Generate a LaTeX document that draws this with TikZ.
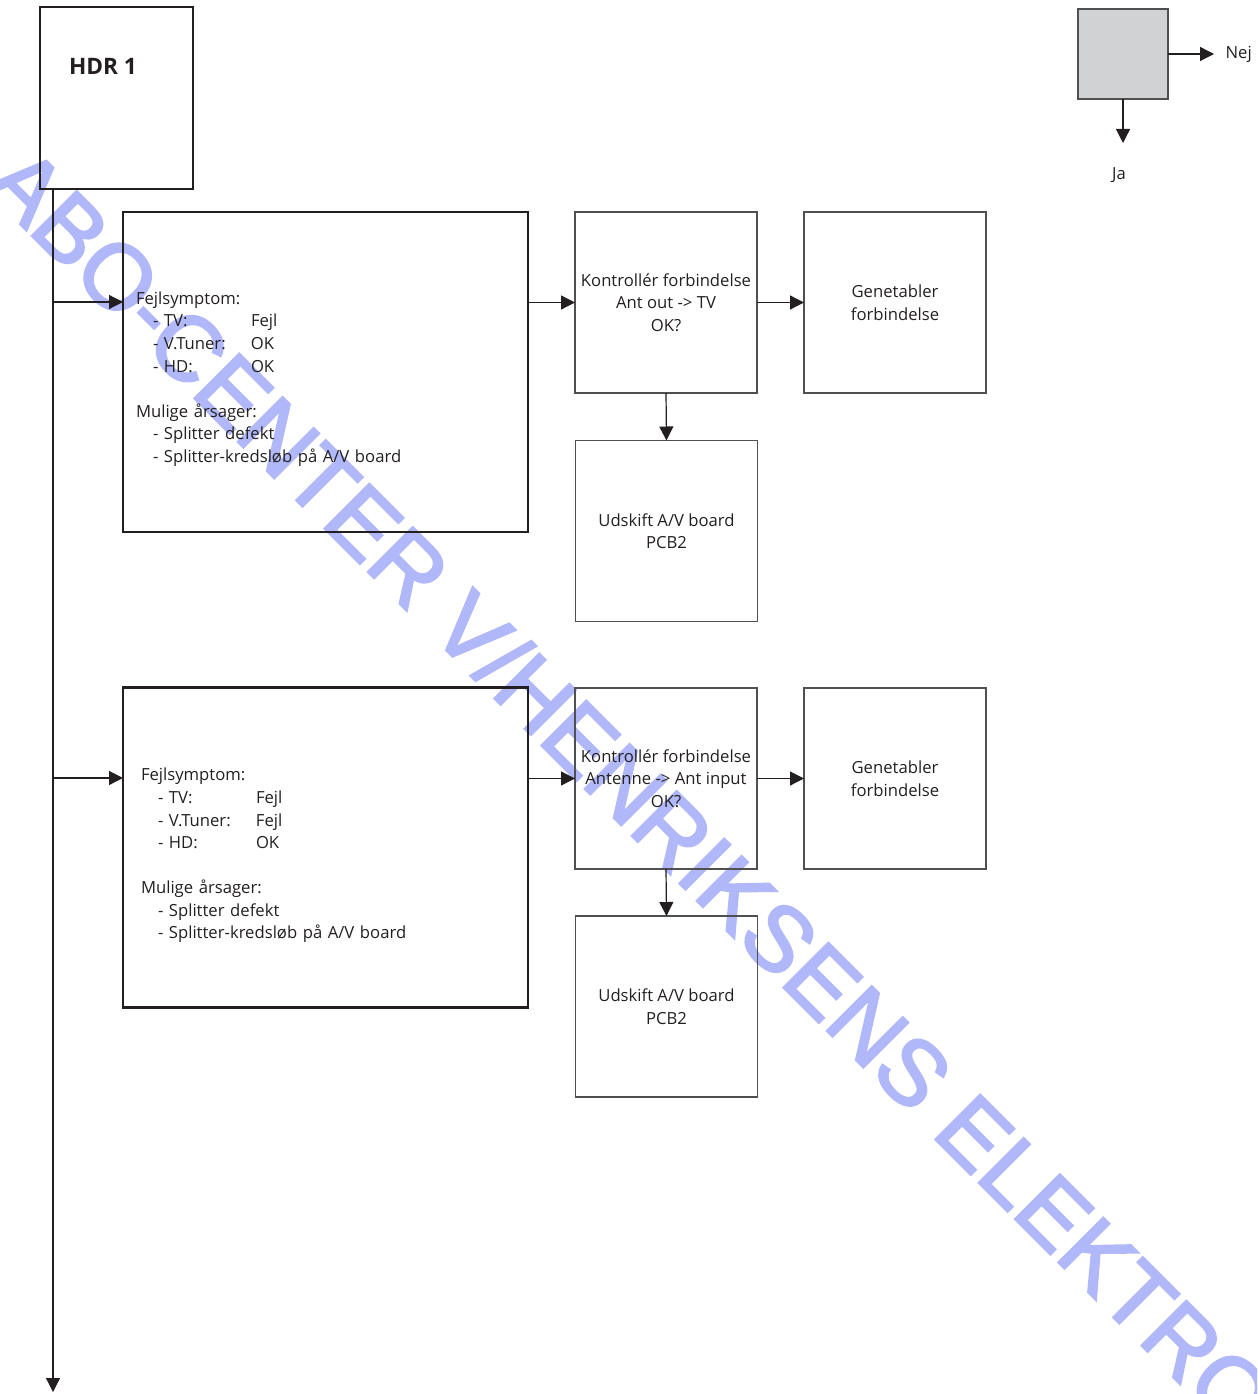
\documentclass[tikz,border=0pt]{standalone}
\usepackage{fontspec}
\setmainfont{Open Sans}
\newfontfamily\wmfont[RawFeature={embolden=2.5}]{Liberation Sans}
\usetikzlibrary{arrows.meta,positioning}
\definecolor{ink}{HTML}{231F20}
\definecolor{boxgray}{HTML}{505052}
\definecolor{legfill}{HTML}{D1D2D4}
\definecolor{wmblue}{RGB}{176,184,250}
\newcommand{\txt}{\fontsize{12.5}{16.9}\selectfont}
\newcommand{\symrow}[2]{\hspace*{12.75pt}\makebox[73.5pt][l]{- #1}#2}
\newcommand{\causerow}[1]{\hspace*{12.75pt}- #1}
\tikzset{
  hdrbox/.style  = {draw=ink, line width=2.2pt, minimum width=114.75pt,
                    minimum height=136.5pt, inner sep=0pt, outer sep=0pt},
  hdrlbl/.style  = {font=\fontsize{17}{20}\selectfont\bfseries, text=ink},
  symbox/.style  = {draw=ink, line width=2pt, text=ink, font=\txt, align=left,
                    minimum width=303.75pt, minimum height=240pt,
                    text width=284.25pt, inner xsep=9.75pt, outer sep=0pt},
  chkbox/.style  = {draw=boxgray, line width=0.8pt, text=ink, font=\txt,
                    align=center, minimum width=136.5pt, minimum height=135.75pt,
                    inner sep=2pt, outer sep=0pt},
  legbox/.style  = {draw=boxgray, line width=0.8pt, fill=legfill,
                    minimum size=67.5pt, inner sep=0pt, outer sep=0pt},
  ar/.style      = {-{Triangle[length=10.5pt,width=10.5pt]}, draw=ink,
                    fill=ink, line width=0.9pt},
  lbl/.style     = {font=\txt, text=ink, inner sep=1pt},
  wmark/.style   = {font=\wmfont\fontsize{69}{69}\selectfont, text=wmblue,
                    inner sep=0pt}
}

\begin{document}
\begin{tikzpicture}[x=0.75pt, y=-0.75pt]
\useasboundingbox (0,0) rectangle (1257,1394);

% watermark
\begin{scope}
\clip (0,0) rectangle (1257,1394);
\node[wmark, anchor=base west, rotate=-45] (wm) at (-17,187)
      {ABO-CENTER V/HENRIKSENS ELEKTRO};
\end{scope}

% title and legend
\node[hdrbox] (hdr) at (116.5,98) {};
\node[hdrlbl] (hdrtitle) at (103,66) {HDR 1};

\node[legbox] (leg) at (1123,54) {};
\coordinate (legR) at (1214,54);
\coordinate (legD) at (1123,143);
\draw[ar] (leg.east) -- (legR);
\draw[ar] (leg.south) -- (legD);
\node[lbl, anchor=west] (nej) at (1224,54) {Nej};
\node[lbl] (ja) at (1119,175) {Ja};

% first case
\node[symbox] (symA) at (325.5,372)
      {\rule{0pt}{20pt}Fejlsymptom:\\
       \symrow{TV:}{Fejl}\\
       \symrow{V.Tuner:}{OK}\\
       \symrow{HD:}{OK}\\[16.9pt]
       Mulige årsager:\\
       \causerow{Splitter defekt}\\
       \causerow{Splitter-kredsløb på A/V board}};
\node[chkbox] (chkA) at (666,302.5)
      {Kontrollér forbindelse\\ Ant out -> TV\\ OK?};
\node[chkbox] (fixA) at (895,302.5) {Genetabler\\ forbindelse};
\node[chkbox] (swapA) at (666.5,531) {Udskift A/V board\\ PCB2};

% second case
\node[symbox, inner xsep=13.5pt, text width=276.75pt] (symB) at (325.5,847.5)
      {\rule{0pt}{21.5pt}Fejlsymptom:\\
       \symrow{TV:}{Fejl}\\
       \symrow{V.Tuner:}{Fejl}\\
       \symrow{HD:}{OK}\\[16.9pt]
       Mulige årsager:\\
       \causerow{Splitter defekt}\\
       \causerow{Splitter-kredsløb på A/V board}};
\node[chkbox] (chkB) at (666,778.5)
      {Kontrollér forbindelse\\ Antenne -> Ant input\\ OK?};
\node[chkbox] (fixB) at (895,778.5) {Genetabler\\ forbindelse};
\node[chkbox] (swapB) at (666.5,1006.5) {Udskift A/V board\\ PCB2};

% trunk and branches
\coordinate (trunkEnd) at (53,1392);
\coordinate (brA) at (53,302);
\coordinate (brB) at (53,778);
\draw[ar] ([xshift=9.75pt]hdr.south west) -- (trunkEnd);
\draw[ar] (brA) -- (brA -| symA.west);
\draw[ar] (brB) -- (brB -| symB.west);

\draw[ar] (symA.east |- chkA.west) -- (chkA.west);
\draw[ar] (chkA.east) -- (fixA.west);
\draw[ar] (chkA.south) -- (swapA.north);

\draw[ar] (symB.east |- chkB.west) -- (chkB.west);
\draw[ar] (chkB.east) -- (fixB.west);
\draw[ar] (chkB.south) -- (swapB.north);
\end{tikzpicture}
\end{document}
